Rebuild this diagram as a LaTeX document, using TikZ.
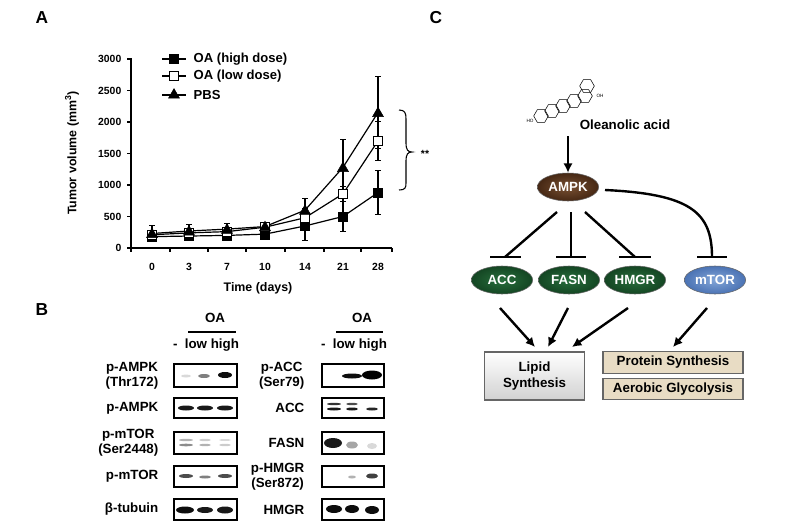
\documentclass[tikz,border=0pt]{standalone}
\usepackage{fontspec}
\setmainfont{Liberation Sans}
\usetikzlibrary{shapes.geometric,arrows.meta}
\begin{document}
\begin{tikzpicture}[x=0.75pt,y=-0.75pt,font=\bfseries,
  lbl/.style={font=\fontsize{9.8}{10}\selectfont\bfseries},
  axl/.style={font=\fontsize{9.3}{10}\selectfont\bfseries},
  tick/.style={font=\fontsize{7.8}{8}\selectfont\bfseries},
  panel/.style={font=\fontsize{13}{14}\selectfont\bfseries},
  ser/.style={line width=0.9pt},
  sq/.style={draw=black,fill=black,minimum size=7pt,inner sep=0,rectangle},
  osq/.style={draw=black,fill=white,minimum size=7pt,inner sep=0,rectangle,line width=0.6pt},
  tri/.style={draw=black,fill=black,regular polygon,regular polygon sides=3,minimum size=9.5pt,inner sep=0},
  box/.style={draw=black,line width=1pt},
  blot/.style={font=\fontsize{10}{11}\selectfont\bfseries,align=center},
  oval/.style={ellipse,minimum width=46pt,minimum height=21pt,inner sep=1pt,text=white,font=\fontsize{10}{10}\selectfont\bfseries,draw=black!60},
  inh/.style={line width=1.8pt},
  act/.style={line width=1.8pt,-{Latex[length=7pt,width=7pt]}},
  tan/.style={draw=black!60,fill={rgb,255:red,232;green,220;blue,196},line width=0.8pt,font=\fontsize{10}{10}\selectfont\bfseries}]
\useasboundingbox (0,0) rectangle (800,532);
\fill[white] (0,0) rectangle (800,532);
% panel letters
\node[panel] (pA) at (42,18) {A};
\node[panel] (pB) at (42,310) {B};
\node[panel] (pC) at (436,18) {C};
% ---------- chart axes
\draw[line width=0.8pt] (131,58) -- (131,248) -- (392,248);
\foreach \v in {0,500,...,3000}{
  \draw[line width=0.8pt] (127,{248-0.063*\v}) -- (131,{248-0.063*\v});
  \node[tick,anchor=east] at (126,{248-0.063*\v}) {\v};}
\foreach \x in {131,170,208,246,285,324,361,392}
  \draw[line width=0.8pt] (\x,248) -- (\x,252);
\foreach \x/\d in {152/0,189/3,227/7,265/10,305/14,343/21,378/28}
  \node[tick] at (\x,267) {\d};
\node[axl] (xl) at (258,288) {Time (days)};
\node[axl,rotate=90] (yl) at (72,153) {Tumor volume (mm\textsuperscript{3})};
% error bars
\foreach \x/\v/\e in {152/230/120,189/270/100,227/300/90,265/340/60,305/600/180,343/1280/440,378/2150/570,
                      152/180/50,189/190/50,227/200/50,265/220/40,305/350/230,343/500/240,378/880/350,
                      305/480/150,343/860/120,378/1700/310}{
  \draw[line width=0.8pt] (\x,{248-0.063*(\v-\e)}) -- (\x,{248-0.063*(\v+\e)});
  \draw[line width=0.8pt] (\x-3,{248-0.063*(\v-\e)}) -- (\x+3,{248-0.063*(\v-\e)});
  \draw[line width=0.8pt] (\x-3,{248-0.063*(\v+\e)}) -- (\x+3,{248-0.063*(\v+\e)});}
% series lines
\draw[ser] (152,{248-0.063*230}) -- (189,{248-0.063*270}) -- (227,{248-0.063*300}) -- (265,{248-0.063*340}) -- (305,{248-0.063*600}) -- (343,{248-0.063*1280}) -- (378,{248-0.063*2150});
\draw[ser] (152,{248-0.063*210}) -- (189,{248-0.063*240}) -- (227,{248-0.063*260}) -- (265,{248-0.063*330}) -- (305,{248-0.063*480}) -- (343,{248-0.063*860}) -- (378,{248-0.063*1700});
\draw[ser] (152,{248-0.063*180}) -- (189,{248-0.063*190}) -- (227,{248-0.063*200}) -- (265,{248-0.063*220}) -- (305,{248-0.063*350}) -- (343,{248-0.063*500}) -- (378,{248-0.063*880});
\foreach \x/\v [count=\i] in {152/180,189/190,227/200,265/220,305/350,343/500,378/880}
  \node[sq] (h\i) at (\x,{248-0.063*\v}) {};
\foreach \x/\v [count=\i] in {152/210,189/240,227/260,265/330,305/480,343/860,378/1700}
  \node[osq] (l\i) at (\x,{248-0.063*\v}) {};
\foreach \x/\v [count=\i] in {152/230,189/270,227/300,265/340,305/600,343/1280,378/2150}
  \node[tri] (p\i) at (\x,{248-0.063*\v+1}) {};
% legend
\foreach \y/\s/\t [count=\i] in {59/sq/OA (high dose),76/osq/OA (low dose),95/tri/PBS}{
  \draw[ser] (162,\y) -- (186,\y);
  \node[\s] (lg\i) at (174,\y) {};
  \node[lbl,anchor=west] (lt\i) at (189,\y) {\t};}
% brace
\draw[line width=0.8pt] (399,110) .. controls (405,110) and (406,113) .. (406,119) -- (406,143)
  .. controls (406,150) and (408,152) .. (412,152) .. controls (408,152) and (406,154) .. (406,161)
  -- (406,183) .. controls (406,188) and (405,190) .. (399,190);
\node[tick] (star) at (425,154) {**};
% ---------- blots
\node[blot] (oa1) at (215,318) {OA};
\draw[line width=1.2pt] (188,332) -- (236,332);
\node[blot] (lane1) at (206,345) {-\ \ low high};
\node[blot] (oa2) at (362,318) {OA};
\draw[line width=1.2pt] (336,332) -- (383,332);
\node[blot] (lane2) at (354,345) {-\ \ low high};
\foreach \t/\a/\b [count=\i] in {{p-AMPK\\(Thr172)}/364/387,{p-AMPK}/398/418,{p-mTOR\\(Ser2448)}/432/454,{p-mTOR}/466/487,{β-tubuin}/499/520}{
  \draw[box] (174,\a) rectangle (237,\b);
  \node[blot,anchor=east] (bl\i) at (163,{(\a+\b)/2}) {\t};}
\foreach \t/\a/\b [count=\i] in {{p-ACC\\(Ser79)}/364/387,{ACC}/398/418,{FASN}/432/454,{p-HMGR\\(Ser872)}/466/487,{HMGR}/499/520}{
  \draw[box] (322,\a) rectangle (384,\b);
  \node[blot,anchor=east] (br\i) at (309,{(\a+\b)/2}) {\t};}
\newcommand\bnd[5]{\fill[black,opacity=#5] (#1,#2) ellipse [x radius=#3, y radius=#4];}
% left bands
\bnd{186}{376}{5}{1.5}{0.15}\bnd{204}{376}{6}{2}{0.5}\bnd{225}{375}{7}{3}{0.95}
\bnd{186}{408}{8}{2.5}{0.9}\bnd{205}{408}{8}{2.5}{0.9}\bnd{225}{408}{8}{2.5}{0.9}
\bnd{186}{440}{7}{1.2}{0.3}\bnd{205}{440}{6}{1.2}{0.2}\bnd{225}{440}{6}{1}{0.15}
\bnd{186}{445}{7}{1.3}{0.45}\bnd{205}{445}{6}{1.2}{0.3}\bnd{225}{445}{6}{1.2}{0.2}
\bnd{186}{476}{7}{2}{0.7}\bnd{205}{477}{6}{1.5}{0.5}\bnd{225}{476}{7}{2}{0.7}
\bnd{185}{510}{9}{3.5}{0.95}\bnd{205}{510}{8}{3}{0.9}\bnd{225}{510}{8}{3.5}{0.9}
% right bands
\bnd{352}{376}{10}{2.5}{0.95}\bnd{372}{375}{10}{4.5}{1}
\bnd{334}{404}{7}{1.2}{0.8}\bnd{334}{409}{7}{1.5}{0.9}\bnd{352}{404}{6}{1.2}{0.7}\bnd{352}{409}{6}{1.5}{0.9}\bnd{372}{409}{6}{1.5}{0.85}
\bnd{333}{443}{9}{5}{0.9}\bnd{352}{445}{6}{3.5}{0.35}\bnd{372}{446}{5}{3}{0.15}
\bnd{352}{477}{4}{1.5}{0.3}\bnd{372}{476}{6}{2.5}{0.75}
\bnd{334}{509}{8}{4}{0.95}\bnd{352}{509}{7}{4}{0.95}\bnd{372}{510}{7}{4}{0.95}
% ---------- panel C
\foreach \x/\y in {541/116,552/111,563/106,574/101,585/96,587/86}
  \node[draw,regular polygon,regular polygon sides=6,minimum size=11pt,inner sep=0,line width=0.4pt] at (\x,\y) {};
\node[font=\fontsize{3.5}{3}\selectfont] (ho) at (530,121) {HO};
\node[font=\fontsize{3.5}{3}\selectfont] (oh) at (600,96) {OH};
\node[font=\fontsize{10}{10}\selectfont\bfseries] (ole) at (625,125) {Oleanolic acid};
\node[oval,shade,inner color={rgb,255:red,120;green,80;blue,50},outer color={rgb,255:red,70;green,40;blue,20}] (ampk) at (568,187) {AMPK};
\node[oval,shade,inner color={rgb,255:red,40;green,110;blue,60},outer color={rgb,255:red,20;green,70;blue,35}] (acc) at (502,280) {ACC};
\node[oval,shade,inner color={rgb,255:red,40;green,110;blue,60},outer color={rgb,255:red,20;green,70;blue,35}] (fasn) at (569,280) {FASN};
\node[oval,shade,inner color={rgb,255:red,40;green,110;blue,60},outer color={rgb,255:red,20;green,70;blue,35}] (hmgr) at (635,280) {HMGR};
\node[oval,shade,inner color={rgb,255:red,130;green,165;blue,215},outer color={rgb,255:red,75;green,115;blue,180}] (mtor) at (715,280) {mTOR};
\coordinate (mol) at (568,136);
\draw[act] (mol) -- (ampk.north);
\coordinate (t1) at (505,257);\coordinate (t2) at (571,257);\coordinate (t3) at (635,257);\coordinate (t4) at (712,257);
\draw[inh] (557,212) -- (t1); \draw[inh] (490,257) -- (521,257);
\draw[inh] (571,212) -- (t2); \draw[inh] (556,257) -- (586,257);
\draw[inh] (585,212) -- (t3); \draw[inh] (619,257) -- (651,257);
\draw[inh] (605,190) .. controls (690,194) and (712,212) .. (t4); \draw[inh] (697,257) -- (727,257);
\node[draw=black!60,line width=0.8pt,minimum width=75pt,minimum height=36pt,align=center,
  shade,top color=white,bottom color=black!18,font=\fontsize{10}{12}\selectfont\bfseries] (lipid) at (534.5,376) {Lipid\\Synthesis};
\node[tan,minimum width=105pt,minimum height=15.5pt] (prot) at (673,362.5) {Protein Synthesis};
\node[tan,minimum width=105pt,minimum height=15pt] (aero) at (673,389) {Aerobic Glycolysis};
\draw[act] (500,308) -- (535,347);
\draw[act] (568,308) -- (548,347);
\draw[act] (628,308) -- (572,347);
\draw[act] (707,308) -- (673,347);
\end{tikzpicture}
\end{document}
